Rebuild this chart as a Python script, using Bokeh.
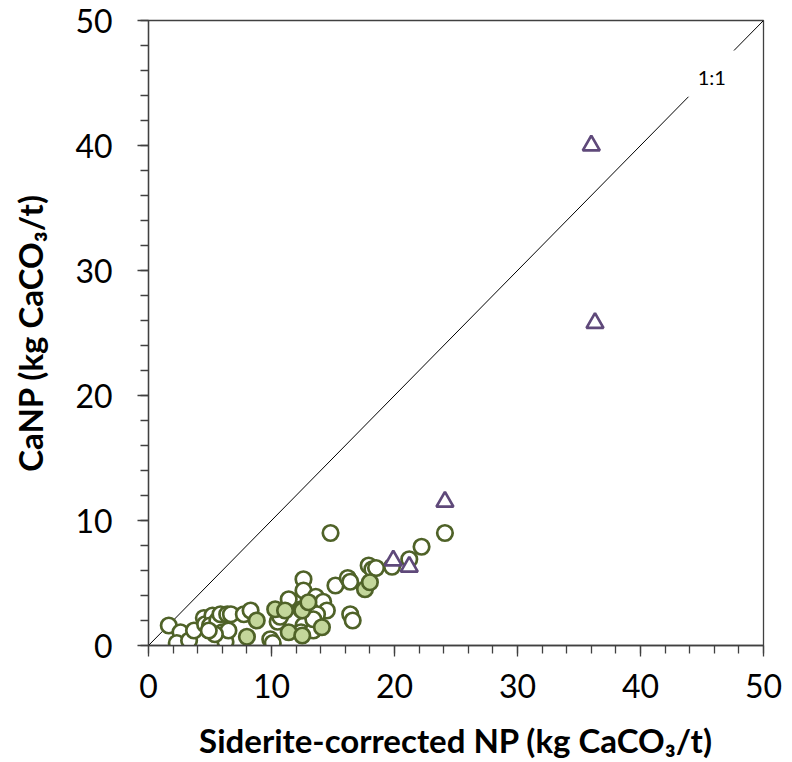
from bokeh.plotting import figure
from bokeh.models import Range1d, SingleIntervalTicker, Label
from bokeh.embed import file_html
from bokeh.resources import INLINE

# Open circles (Siderite-corrected NP, CaNP)
open_x = [1.65, 2.6, 2.3, 3.3, 3.7, 4.5, 4.6, 5.2, 5.0, 5.6, 5.85, 6.4, 6.0, 6.26, 6.5,
          6.7, 7.75, 8.3, 9.9, 10.1, 10.5, 10.7, 11.4, 12.4, 12.6, 12.4, 12.6, 12.6, 13.6, 14.2,
          14.5, 13.7, 13.4, 14.8, 15.2, 16.2, 16.4, 16.4, 16.6, 17.9, 18.2, 18.5, 19.8,
          21.2, 22.2, 24.1, 5.4, 4.9, 13.4]
open_y = [1.6, 1.06, 0.2, 0.4, 1.2, 2.2, 1.7, 2.4, 1.6, 2.0, 2.5, 2.5, 1.06, 0.3, 1.2,
          2.5, 2.5, 2.8, 0.5, 0.2, 1.9, 2.3, 3.7, 2.9, 1.6, 1.06, 5.3, 4.4, 3.9, 3.5,
          2.8, 2.5, 1.2, 9.0, 4.8, 5.4, 5.1, 2.5, 2.0, 6.4, 6.1, 6.2, 6.3,
          6.9, 7.9, 9.0, 0.9, 1.2, 2.1]

# Filled circles
fill_x = [8.0, 8.8, 10.3, 11.1, 11.4, 12.5, 12.5, 13.0, 14.1, 17.6, 18.0]
fill_y = [0.7, 2.0, 2.9, 2.8, 1.06, 0.8, 2.8, 3.46, 1.46, 4.5, 5.06]

# Triangles
tri_x = [36.0, 36.3, 24.1, 19.9, 21.2]
tri_y = [40.0, 25.8, 11.5, 6.8, 6.3]

# 1:1 line (with gap for its label)
line_x0 = [0, 47.6]
line_x1 = [43.9, 50]

x_title = "Siderite-corrected NP (kg CaCO\u2083/t)"
y_title = "CaNP (kg CaCO\u2083/t)"

p = figure(width=790, height=762, output_backend="svg", toolbar_location=None,
           x_range=Range1d(0, 50), y_range=Range1d(0, 50),
           min_border_left=148, min_border_right=27, min_border_top=20, min_border_bottom=110)
p.grid.visible = False
p.outline_line_color = "#404040"
p.outline_line_width = 1.3
p.background_fill_color = "white"
p.border_fill_color = "white"

p.segment(x0=line_x0, y0=line_x0, x1=line_x1, y1=line_x1, line_color="black", line_width=1)
p.add_layout(Label(x=45.8, y=45.5, text="1:1", text_font="Lato", text_font_size="20px",
                   text_align="center", text_baseline="middle", text_color="black"))

p.scatter(open_x, open_y, marker="circle", size=15.5, line_color="#4F6228", line_width=2.7,
          fill_color="white")
p.scatter(fill_x, fill_y, marker="circle", size=15.5, line_color="#4F6228", line_width=2.7,
          fill_color="#C3D69B")
p.scatter(tri_x, tri_y, marker="triangle", size=17, line_color="#5F497A", line_width=2.7,
          fill_color="white")

for ax in (p.xaxis[0], p.yaxis[0]):
    ax.ticker = SingleIntervalTicker(interval=10, num_minor_ticks=5)
    ax.axis_line_color = "#404040"
    ax.axis_line_width = 1.3
    ax.major_tick_line_color = "#404040"
    ax.minor_tick_line_color = "#404040"
    ax.major_tick_line_width = 1.3
    ax.minor_tick_line_width = 1.3
    ax.major_tick_out = 11
    ax.major_tick_in = 0
    ax.minor_tick_out = 8
    ax.minor_tick_in = 0
    ax.major_label_text_font = "Lato"
    ax.major_label_text_font_size = "32px"
    ax.major_label_text_color = "black"
    ax.axis_label_text_font = "Lato"
    ax.axis_label_text_font_style = "bold"
    ax.axis_label_text_font_size = "33px"
    ax.axis_label_text_color = "black"

p.xaxis.axis_label = x_title
p.yaxis.axis_label = y_title
p.xaxis.major_label_standoff = 17
p.yaxis.major_label_standoff = 25
p.xaxis.axis_label_standoff = 19
p.yaxis.axis_label_standoff = 22

open("out.html", "w").write(file_html(p, INLINE))
